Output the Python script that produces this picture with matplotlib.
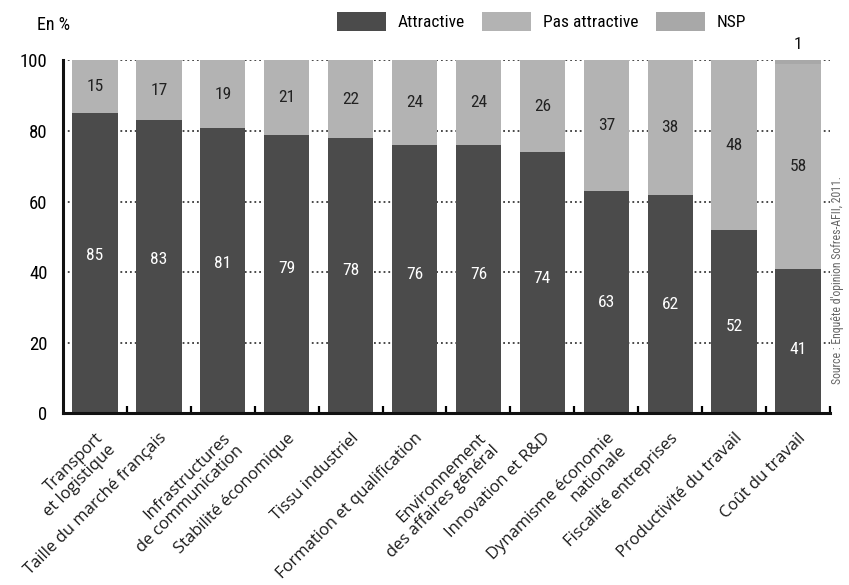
import matplotlib
matplotlib.use("Agg")
import matplotlib.pyplot as plt
from matplotlib import font_manager
import numpy as np

# ── Data (Sofres-AFII 2011) ───────────────────────────────────────────────────
categories = [
    "Transport\net logistique",
    "Taille du marché français",
    "Infrastructures\nde communication",
    "Stabilité économique",
    "Tissu industriel",
    "Formation et qualification",
    "Environnement\ndes affaires général",
    "Innovation et R&D",
    "Dynamisme économie\nnationale",
    "Fiscalité entreprises",
    "Productivité du travail",
    "Coût du travail",
]
attractive = [85, 83, 81, 79, 78, 76, 76, 74, 63, 62, 52, 41]
pas_attractive = [15, 17, 19, 21, 22, 24, 24, 26, 37, 38, 48, 58]
nsp = [0, 0, 0, 0, 0, 0, 0, 0, 0, 0, 0, 1]
y_ticks = [0, 20, 40, 60, 80, 100]

# ── Style ────────────────────────────────────────────────────────────────────
DARK = "#4b4b4b"
LIGHT = "#b3b3b3"
NSP_C = "#a8a8a8"
LABEL_FONT = ["Open Sans", "DejaVu Sans"]

# narrow face for numbers/legend, if one is installed
names = {f.name for f in font_manager.fontManager.ttflist}
narrow = [n for n in ("Liberation Sans Narrow", "Roboto Condensed",
                      "Open Sans Condensed", "Noto Sans Condensed") if n in names]
plt.rcParams["font.family"] = narrow + ["DejaVu Sans"]
plt.rcParams["font.stretch"] = "condensed"

fig = plt.figure(figsize=(8.49, 5.85), dpi=100)
ax = fig.add_axes([0.0742, 0.2932, 0.9034, 0.6034])

x = np.arange(len(categories))
a = np.array(attractive)
p = np.array(pas_attractive)
n = np.array(nsp)
w = 0.71

# dotted reference lines behind the bars
for yv in y_ticks[1:]:
    ax.axhline(yv, color="#3a3a3a", linestyle=":", linewidth=1.3, zorder=1)

ax.bar(x, a, width=w, color=DARK, zorder=3, label="Attractive")
ax.bar(x, p, width=w, bottom=a, color=LIGHT, zorder=3, label="Pas attractive")
ax.bar(x, n, width=w, bottom=a + p, color=NSP_C, zorder=3, label="NSP")

# value labels
for xi, av, pv, nv in zip(x, a, p, n):
    ax.text(xi, 0.61 * av - 7, f"{av}", ha="center", va="center",
            color="white", fontsize=12.5, zorder=4)
    ax.text(xi, av + pv / 2, f"{pv}", ha="center", va="center",
            color="#222222", fontsize=12.5, zorder=4)
    if nv > 0:
        ax.text(xi, 104.5, f"{nv}", ha="center", va="center",
                color="#111111", fontsize=12.5)

ax.set_xlim(-0.5, len(categories) - 0.5)
ax.set_ylim(0, 100)
ax.set_yticks(y_ticks)
ax.tick_params(axis="y", length=0, pad=11, labelsize=13.5)

ax.set_xticks(x)
ax.set_xticklabels(categories, rotation=45, rotation_mode="anchor",
                   ha="right", va="top", fontsize=12, stretch="normal",
                   family=LABEL_FONT, color="#1a1a1a", linespacing=1.1)
ax.tick_params(axis="x", which="major", length=0, pad=12)
ax.set_xticks(np.arange(len(categories)) + 0.5, minor=True)
ax.tick_params(axis="x", which="minor", direction="in", length=5, width=1.6)

for side in ("top", "right"):
    ax.spines[side].set_visible(False)
for side in ("left", "bottom"):
    ax.spines[side].set_linewidth(2.2)
    ax.spines[side].set_color("#111111")
    ax.spines[side].set_zorder(5)

# header
fig.text(37 / 849, 1 - 25 / 585, "En %", fontsize=13, va="center", ha="left")
ax.legend(loc="upper left", bbox_to_anchor=(337 / 849, 1 - 12 / 585),
          bbox_transform=fig.transFigure, ncol=3, frameon=False,
          fontsize=12.5, handlelength=2.8, handleheight=1.3,
          handletextpad=0.7, columnspacing=1.0, borderpad=0, borderaxespad=0)

fig.text(837 / 849, 1 - 280 / 585,
         "Source : Enquête d'opinion Sofres-AFII, 2011.",
         rotation=90, fontsize=8.5, color="#666666", ha="center", va="center")

fig.savefig("out.png", dpi=100)
